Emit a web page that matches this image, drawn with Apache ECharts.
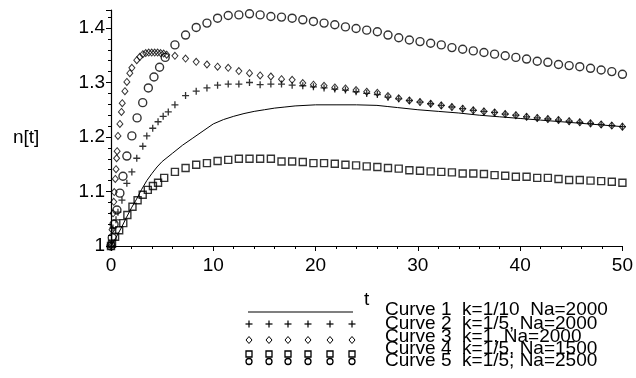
<!DOCTYPE html>
<html>
<head>
<meta charset="utf-8">
<script src="https://cdn.jsdelivr.net/npm/echarts@6/dist/echarts.min.js"></script>
<style>html,body{margin:0;padding:0;background:#fff;}#c{width:636px;height:378px;}</style>
</head>
<body>
<div id="c"></div>
<script>
// ---- data ----
const xTicks = [0, 10, 20, 30, 40, 50];
const yTicks = [1, 1.1, 1.2, 1.3, 1.4];
const legendLabels = ['Curve 1  k=1/10  Na=2000', 'Curve 2  k=1/5, Na=2000', 'Curve 3  k=1, Na=2000', 'Curve 4  k=1/5, Na=1500', 'Curve 5  k=1/5; Na=2500'];

// curve 1 (solid line)
const c1T = [0,0.5,1,1.5,2,2.5,3,3.5,4,4.5,5,6,7,8,9,10,11,12,13,14,15,16,17,18,20,22,24,26,27,28,30,32,34,36,38,40,42,44,46,48,50];
const c1V = [1.0,1.016,1.033,1.052,1.07,1.086,1.104,1.12,1.133,1.145,1.155,1.17,1.185,1.198,1.211,1.224,1.232,1.238,1.243,1.247,1.25,1.253,1.255,1.257,1.259,1.259,1.259,1.258,1.256,1.254,1.25,1.247,1.244,1.24,1.237,1.234,1.231,1.228,1.225,1.222,1.219];

// common sample times of the point curves (after the start)
const tLate = [6.25,7.29,8.33,9.38,10.42,11.46,12.5,13.54,14.58,15.63,16.67,17.71,18.75,19.79,20.83,21.88,22.92,23.96,25,26.04,27.08,28.13,29.17,30.21,31.25,32.29,33.33,34.38,35.42,36.46,37.5,38.54,39.58,40.63,41.67,42.71,43.75,44.79,45.83,46.88,47.92,48.96,50];

// curve 2 (+)
const c2TEarly = [0,0.19,0.49,0.68,1.07,1.55,2.04,2.52,3.11,3.5,4.08,4.6,5.1,5.6];
const c2VEarly = [1.0,1.033,1.048,1.062,1.084,1.115,1.136,1.161,1.183,1.202,1.216,1.228,1.238,1.246];
const c2VLate = [1.259,1.276,1.284,1.29,1.295,1.297,1.297,1.3,1.296,1.297,1.297,1.295,1.294,1.292,1.29,1.288,1.286,1.283,1.28,1.278,1.273,1.270,1.267,1.264,1.261,1.258,1.255,1.252,1.249,1.247,1.245,1.242,1.24,1.237,1.235,1.233,1.231,1.229,1.227,1.225,1.223,1.221,1.219];

// curve 3 (diamonds)
const c3TEarly = [0,0.1,0.2,0.27,0.32,0.42,0.49,0.55,0.6,0.68,0.87,1.02,1.1,1.36,1.55,1.84,2.04,2.52,2.82,3.11,3.4,3.69,3.98,4.27,4.56,4.85,5.15,5.44];
const c3VEarly = [1.0,1.03,1.06,1.081,1.099,1.123,1.141,1.161,1.174,1.202,1.224,1.246,1.262,1.284,1.301,1.317,1.327,1.341,1.347,1.352,1.354,1.355,1.355,1.355,1.355,1.354,1.353,1.351];
const c3VLate = [1.349,1.344,1.338,1.333,1.329,1.327,1.321,1.317,1.313,1.311,1.306,1.305,1.299,1.296,1.294,1.291,1.289,1.286,1.283,1.281,1.275,1.271,1.267,1.264,1.261,1.258,1.255,1.252,1.249,1.247,1.245,1.242,1.24,1.237,1.235,1.233,1.231,1.229,1.227,1.225,1.223,1.221,1.219];

// curve 4 (squares)
const c4TEarly = [0,0.1,0.4,0.8,1.2,1.6,2.1,2.6,3.1,3.6,4.1,4.6,5.2];
const c4VEarly = [1.0,1.004,1.017,1.029,1.042,1.057,1.072,1.084,1.094,1.103,1.11,1.116,1.125];
const c4VLate = [1.136,1.143,1.149,1.152,1.156,1.158,1.16,1.16,1.16,1.16,1.155,1.155,1.154,1.152,1.152,1.151,1.149,1.148,1.146,1.145,1.143,1.142,1.139,1.138,1.137,1.136,1.135,1.133,1.133,1.132,1.13,1.129,1.127,1.127,1.125,1.125,1.123,1.121,1.121,1.12,1.119,1.118,1.116];

// curve 5 (circles)
const c5TEarly = [0,0.12,0.3,0.58,0.87,1.17,1.55,2.04,2.55,3.1,3.65,4.2,4.75,5.3];
const c5VEarly = [1.0,1.015,1.04,1.066,1.097,1.128,1.165,1.202,1.235,1.263,1.29,1.31,1.328,1.346];
const c5VLate = [1.369,1.387,1.401,1.409,1.418,1.423,1.424,1.426,1.424,1.421,1.42,1.418,1.415,1.412,1.409,1.406,1.402,1.399,1.396,1.393,1.387,1.382,1.378,1.375,1.372,1.369,1.364,1.361,1.358,1.355,1.352,1.349,1.346,1.343,1.339,1.337,1.333,1.331,1.329,1.326,1.323,1.32,1.315];

// ---- build ----
function zip(t, v) { return t.map((x, i) => [x, v[i]]); }
function pts(tE, vE, vL) { return zip(tE, vE).concat(zip(tLate, vL)); }

const FONT = 'Liberation Sans';
const BLACK = '#000';
const hollow = { color: 'rgba(0,0,0,0)', borderColor: BLACK, borderWidth: 1.4 };
const PLUS = 'path://M0,4L8,4M4,0L4,8';

const chart = echarts.init(document.getElementById('c'), null, { renderer: 'canvas' });

// legend drawing (decoration)
const legX = [249, 269, 288, 308, 330, 352];
const legRows = [324, 340, 354, 361.5];
const legText = [309.5, 323.5, 336.5, 349, 361];
const g = [];
g.push({ type: 'line', shape: { x1: 248, y1: 312, x2: 353, y2: 312 }, style: { stroke: BLACK, lineWidth: 1.2 } });
legX.forEach(x => {
  let y = legRows[0];
  g.push({ type: 'line', shape: { x1: x - 3.5, y1: y, x2: x + 3.5, y2: y }, style: { stroke: BLACK, lineWidth: 1.2 } });
  g.push({ type: 'line', shape: { x1: x, y1: y - 3.5, x2: x, y2: y + 3.5 }, style: { stroke: BLACK, lineWidth: 1.2 } });
  y = legRows[1];
  g.push({ type: 'polygon', shape: { points: [[x, y - 3.5], [x + 3, y], [x, y + 3.5], [x - 3, y]] }, style: { fill: 'none', stroke: BLACK, lineWidth: 1 } });
  y = legRows[2];
  g.push({ type: 'rect', shape: { x: x - 3, y: y - 3, width: 6, height: 6 }, style: { fill: 'none', stroke: BLACK, lineWidth: 1.3 } });
  y = legRows[3];
  g.push({ type: 'circle', shape: { cx: x, cy: y, r: 3 }, style: { fill: 'none', stroke: BLACK, lineWidth: 1.3 } });
});
legendLabels.forEach((s, i) => {
  g.push({ type: 'text', x: 385, y: legText[i], style: { text: s, fill: BLACK, font: '19px "' + FONT + '"', textVerticalAlign: 'middle', textAlign: 'left' } });
});
g.push({ type: 'text', x: 13, y: 138, style: { text: 'n[t]', fill: BLACK, font: '19px "' + FONT + '"', textVerticalAlign: 'middle', textAlign: 'left' } });

chart.setOption({
  animation: false,
  backgroundColor: '#fff',
  textStyle: { fontFamily: FONT, color: BLACK },
  grid: { left: 111, right: 10, top: 10, bottom: 132, containLabel: false },
  xAxis: {
    type: 'value', min: xTicks[0], max: xTicks[xTicks.length - 1], interval: 10,
    name: 't', nameLocation: 'middle', nameGap: 44,
    nameTextStyle: { fontSize: 19, color: BLACK, fontFamily: FONT },
    axisLine: { lineStyle: { color: BLACK, width: 1.2 } },
    axisTick: { length: 5, lineStyle: { color: BLACK } },
    minorTick: { show: true, splitNumber: 5, length: 3, lineStyle: { color: BLACK } },
    splitLine: { show: false },
    axisLabel: { fontSize: 19, color: BLACK, margin: 10, fontFamily: FONT }
  },
  yAxis: {
    type: 'value', min: yTicks[0], max: 1.433, interval: 0.1,
    axisLine: { show: true, lineStyle: { color: BLACK, width: 1.2 } },
    axisTick: { show: true, length: 5, lineStyle: { color: BLACK } },
    minorTick: { show: true, splitNumber: 5, length: 3, lineStyle: { color: BLACK } },
    splitLine: { show: false },
    axisLabel: { fontSize: 19, color: BLACK, margin: 6, fontFamily: FONT, showMaxLabel: false,
      formatter: v => (yTicks.some(t => Math.abs(t - v) < 1e-9) ? String(+v.toFixed(1)) : '') }
  },
  graphic: g,
  series: [
    { name: 'Curve 1', type: 'line', data: zip(c1T, c1V), showSymbol: false, smooth: false,
      lineStyle: { color: BLACK, width: 1 }, z: 2 },
    { name: 'Curve 2', type: 'scatter', data: pts(c2TEarly, c2VEarly, c2VLate), symbol: PLUS, symbolSize: 7,
      itemStyle: { color: 'rgba(0,0,0,0)', borderColor: BLACK, borderWidth: 1.3 }, z: 3 },
    { name: 'Curve 3', type: 'scatter', data: pts(c3TEarly, c3VEarly, c3VLate), symbol: 'diamond', symbolSize: [6, 7],
      itemStyle: { color: 'rgba(0,0,0,0)', borderColor: BLACK, borderWidth: 1 }, z: 3 },
    { name: 'Curve 4', type: 'scatter', data: pts(c4TEarly, c4VEarly, c4VLate), symbol: 'rect', symbolSize: 7,
      itemStyle: hollow, z: 3 },
    { name: 'Curve 5', type: 'scatter', data: pts(c5TEarly, c5VEarly, c5VLate), symbol: 'circle', symbolSize: 8,
      itemStyle: hollow, z: 3 }
  ]
});
</script>
</body>
</html>
